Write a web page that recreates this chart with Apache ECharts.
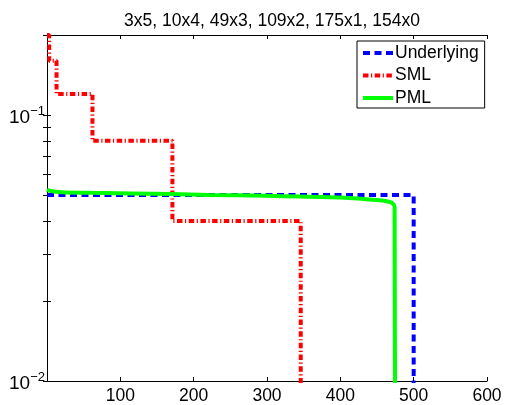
<!DOCTYPE html>
<html>
<head>
<meta charset="utf-8">
<script src="https://cdn.jsdelivr.net/npm/echarts@6/dist/echarts.min.js"></script>
<style>
  html, body { margin: 0; padding: 0; background: #fff; }
  #chart { width: 507px; height: 405px; }
</style>
</head>
<body>
<div id="chart"></div>
<script>
const titleText = '3x5, 10x4, 49x3, 109x2, 175x1, 154x0'

// x ticks and log y ticks
const xTicks = [0, 100, 200, 300, 400, 500, 600]
const yMajor = [0.01, 0.1]
const yTicks = [0.01, 0.02, 0.03, 0.04, 0.05, 0.06, 0.07, 0.08, 0.09, 0.1, 0.2]

// step series: value holds until the next x (0.001 = drops below the axis)
const underlyingX = [0, 500]
const underlyingY = [0.05, 0.001]
const smlX = [0, 3, 13, 62, 171, 346]
const smlY = [0.2, 0.16, 0.12, 0.08, 0.04, 0.001]

// PML curve
const pmlX = [0, 5, 20, 60, 170, 220, 300, 345, 400, 454, 466, 471, 474, 475]
const pmlY = [0.0525, 0.0518, 0.0513, 0.051, 0.0505, 0.0501, 0.0497, 0.0494, 0.049, 0.0478, 0.0472, 0.0466, 0.0452, 0.001]

const zip = (xs, ys) => xs.map((x, i) => [x, ys[i]])

const chart = echarts.init(document.getElementById('chart'), null, { renderer: 'canvas' })

const font = 'Liberation Sans, Arial, Helvetica, sans-serif'
const black = '#000'

const supLabel = v => {
  const e = Math.round(Math.log10(v))
  return '{b|10}{s|' + (e < 0 ? '\u2212' + (-e) : e) + '}'
}

const option = {
  backgroundColor: '#fff',
  animation: false,
  title: {
    text: titleText,
    left: 267,
    textAlign: 'center',
    top: 7,
    textStyle: { fontFamily: font, fontSize: 17.5, fontWeight: 'normal', color: black },
  },
  grid: { left: 47, right: 20, top: 35, bottom: 22 },
  legend: {
    orient: 'vertical',
    left: 357,
    top: 41,
    padding: [3, 6, 1, 4],
    itemWidth: 30,
    itemHeight: 14,
    itemGap: 4.5,
    borderColor: black,
    borderWidth: 1,
    borderRadius: 0,
    backgroundColor: '#fff',
    lineStyle: { width: 4 },
    textStyle: { fontFamily: font, fontSize: 17.5, lineHeight: 18, color: black, padding: [0, 0, 0, -3] },
    data: ['Underlying', 'SML', 'PML'],
  },
  xAxis: [
    {
      type: 'value',
      min: 0,
      max: 600,
      interval: 100,
      axisLine: { lineStyle: { color: black, width: 1 } },
      axisTick: { inside: true, length: 4, lineStyle: { color: black } },
      axisLabel: {
        margin: 6,
        fontFamily: font,
        fontSize: 17.5,
        color: black,
        formatter: v => (v === xTicks[0] ? '' : String(v)),
      },
      splitLine: { show: false },
    },
    {
      type: 'value',
      position: 'top',
      min: 0,
      max: 600,
      interval: 100,
      axisLine: { lineStyle: { color: black, width: 1 } },
      axisTick: { inside: true, length: 4, lineStyle: { color: black } },
      axisLabel: { show: false },
      splitLine: { show: false },
    },
  ],
  yAxis: [
    {
      type: 'log',
      logBase: 10,
      min: 0.01,
      max: 0.2,
      axisLine: { show: true, lineStyle: { color: black, width: 1 } },
      axisTick: { show: true, inside: true, length: 4, customValues: yTicks, lineStyle: { color: black } },
      axisLabel: {
        customValues: yMajor,
        margin: 2,
        formatter: supLabel,
        rich: {
          b: { fontFamily: font, fontSize: 19, color: black, padding: [6, 0, 0, 0] },
          s: { fontFamily: font, fontSize: 13, color: black, padding: [0, 0, 8, 0] },
        },
      },
      splitLine: { show: false },
    },
    {
      type: 'log',
      logBase: 10,
      position: 'right',
      min: 0.01,
      max: 0.2,
      axisLine: { show: true, lineStyle: { color: black, width: 1 } },
      axisTick: { show: true, inside: true, length: 4, customValues: yTicks, lineStyle: { color: black } },
      axisLabel: { show: false },
      splitLine: { show: false },
    },
  ],
  series: [
    {
      name: 'Underlying',
      type: 'line',
      step: 'end',
      data: zip(underlyingX, underlyingY),
      symbol: 'none',
      lineStyle: { color: '#0000ff', width: 4, type: [7, 4.5] },
      itemStyle: { color: '#0000ff', opacity: 0 },
    },
    {
      name: 'SML',
      type: 'line',
      step: 'end',
      data: zip(smlX, smlY),
      symbol: 'none',
      lineStyle: { color: '#ff0000', width: 4, type: [5.5, 2.5, 1.2, 2.5] },
      itemStyle: { color: '#ff0000', opacity: 0 },
    },
    {
      name: 'PML',
      type: 'line',
      smooth: 0.2,
      data: zip(pmlX, pmlY),
      symbol: 'none',
      lineStyle: { color: '#00ff00', width: 4 },
      itemStyle: { color: '#00ff00', opacity: 0 },
    },
  ],
}

chart.setOption(option)
</script>
</body>
</html>
